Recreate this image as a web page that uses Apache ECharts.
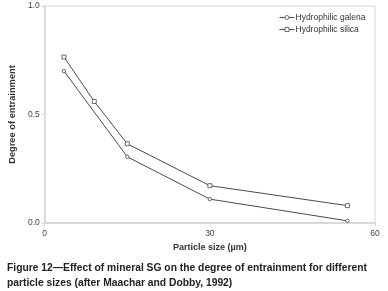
<!DOCTYPE html>
<html>
<head>
<meta charset="utf-8">
<script src="https://cdn.jsdelivr.net/npm/echarts@6/dist/echarts.min.js"></script>
<style>
  html, body { margin: 0; padding: 0; background: #fff; }
  #chart { width: 388px; height: 291px; }
</style>
</head>
<body>
<div id="chart"></div>
<script>
// particle size (µm) and degree of entrainment
const galenaSize = [3.5, 15, 30, 55];
const galenaEntrainment = [0.70, 0.305, 0.11, 0.01];
const silicaSize = [3.5, 9, 15, 30, 55];
const silicaEntrainment = [0.765, 0.56, 0.365, 0.172, 0.08];

const xTicks = [0, 30, 60];
const yTicks = [0, 0.5, 1.0];

const font = 'Liberation Sans, Arial, sans-serif';
const axisGray = '#d4d4d4';
const lineColor = '#4a4a4a';

const chart = echarts.init(document.getElementById('chart'));

function pairs(xs, ys) {
  return xs.map((x, i) => [x, ys[i]]);
}

chart.setOption({
  animation: false,
  title: {
    text: 'Figure 12\u2014Effect of mineral SG on the degree of entrainment for different\nparticle sizes (after Maachar and Dobby, 1992)',
    left: 2,
    top: 256,
    textStyle: { fontFamily: font, fontSize: 10.3, fontWeight: 'bold', color: '#222', lineHeight: 15 }
  },
  legend: {
    left: 274,
    top: 8,
    orient: 'vertical',
    itemWidth: 15,
    itemHeight: 5,
    itemGap: 3,
    lineStyle: { width: 1 },
    itemStyle: { borderWidth: 0.8 },
    textStyle: { fontFamily: font, fontSize: 8.5, color: '#333', padding: [0, 0, 0, -4] },
    data: ['Hydrophilic galena', 'Hydrophilic silica']
  },
  grid: { left: 36, right: 13, top: 6, bottom: 68, show: true, borderColor: axisGray, borderWidth: 1 },
  xAxis: {
    type: 'value',
    min: xTicks[0],
    max: xTicks[xTicks.length - 1],
    interval: 30,
    name: 'Particle size (\u00b5m)',
    nameLocation: 'middle',
    nameGap: 19,
    nameTextStyle: { fontFamily: font, fontSize: 9, fontWeight: 'bold', color: '#333' },
    axisLine: { show: true, lineStyle: { color: axisGray, width: 1.5 } },
    axisTick: { show: true, length: 3, lineStyle: { color: axisGray } },
    axisLabel: { fontFamily: font, fontSize: 8.5, color: '#444', margin: 6 },
    splitLine: { show: false }
  },
  yAxis: {
    type: 'value',
    min: yTicks[0],
    max: yTicks[yTicks.length - 1],
    interval: 0.5,
    name: 'Degree of entrainment',
    nameLocation: 'middle',
    nameGap: 24,
    nameTextStyle: { fontFamily: font, fontSize: 9.3, fontWeight: 'bold', color: '#333' },
    axisLine: { show: true, lineStyle: { color: axisGray, width: 1.5 } },
    axisTick: { show: true, length: 3, lineStyle: { color: axisGray } },
    axisLabel: { fontFamily: font, fontSize: 8.5, color: '#444', margin: 5, formatter: v => v.toFixed(1) },
    splitLine: { show: false }
  },
  series: [
    {
      name: 'Hydrophilic galena',
      type: 'line',
      data: pairs(galenaSize, galenaEntrainment),
      symbol: 'circle',
      symbolSize: 3.5,
      color: lineColor,
      lineStyle: { color: lineColor, width: 1 },
      itemStyle: { color: '#fff', borderColor: lineColor, borderWidth: 0.8 }
    },
    {
      name: 'Hydrophilic silica',
      type: 'line',
      data: pairs(silicaSize, silicaEntrainment),
      symbol: 'rect',
      symbolSize: 4,
      color: lineColor,
      lineStyle: { color: lineColor, width: 1 },
      itemStyle: { color: '#fff', borderColor: lineColor, borderWidth: 0.8 }
    }
  ]
});
</script>
</body>
</html>
